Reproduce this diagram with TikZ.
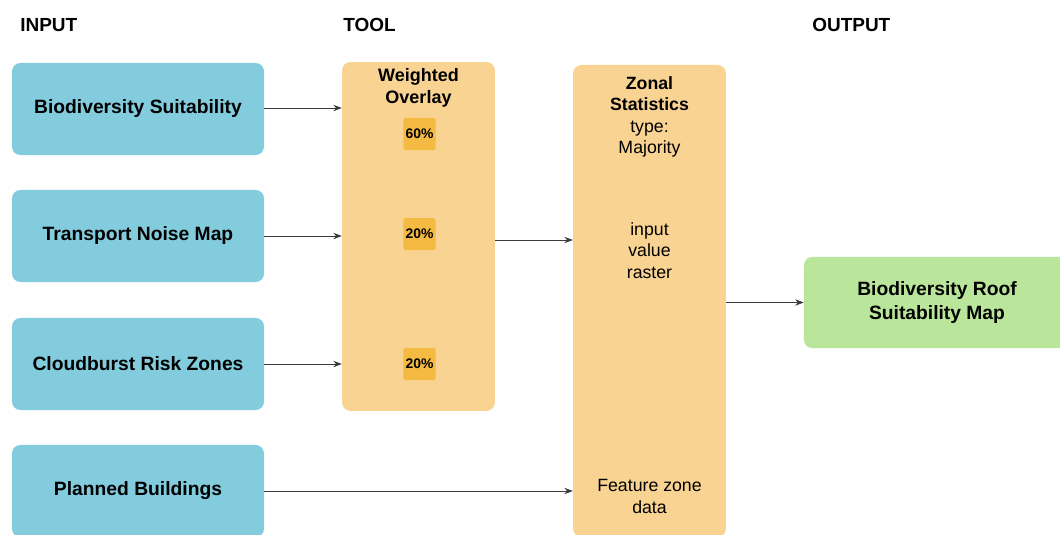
\documentclass[tikz,border=0pt]{standalone}
\usepackage{fontspec}
\setmainfont{Liberation Sans}
\usetikzlibrary{arrows.meta}

\definecolor{inblue}{HTML}{82CCDD}
\definecolor{toolorange}{HTML}{F8D392}
\definecolor{weightorange}{HTML}{F5BA42}
\definecolor{outgreen}{HTML}{B9E69A}
\definecolor{linegray}{HTML}{3A3A3A}

\begin{document}
\begin{tikzpicture}[x=0.025cm, y=-0.025cm,
  inbox/.style={rectangle, rounded corners=6pt, fill=inblue, minimum width=6.3cm, minimum height=2.3cm, font=\fontsize{13.7}{16}\selectfont\bfseries},
  toolbox/.style={rectangle, rounded corners=6pt, fill=toolorange, minimum width=3.82cm},
  weightbox/.style={rectangle, rounded corners=1.5pt, fill=weightorange, minimum size=0.8cm, inner sep=0pt, font=\fontsize{9.9}{11}\selectfont\bfseries},
  outbox/.style={rectangle, rounded corners=6pt, fill=outgreen, minimum width=6.65cm, minimum height=2.28cm, align=center, font=\fontsize{13.7}{16.5}\selectfont\bfseries},
  header/.style={font=\fontsize{13.5}{16}\selectfont\bfseries, anchor=west, inner sep=0pt},
  tooltext/.style={align=center, font=\fontsize{12.6}{15.2}\selectfont},
  flow/.style={-{Stealth[length=6pt, width=4.5pt]}, draw=linegray, line width=0.5pt}]
  \clip (0,0) rectangle (1060,534);
  \useasboundingbox (0,0) rectangle (1060,534);

  \node[header] (hin) at (20,25) {INPUT};
  \node[header] (htool) at (343,25) {TOOL};
  \node[header] (hout) at (812,25) {OUTPUT};

  \node[inbox] (bio) at (138,109) {Biodiversity Suitability};
  \node[inbox] (noise) at (138,236) {Transport Noise Map};
  \node[inbox] (cloud) at (138,364) {Cloudburst Risk Zones};
  \node[inbox] (plan) at (138,491) {Planned Buildings};

  \node[toolbox, minimum height=8.72cm] (overlay) at (418.5,236.5) {};
  \node[tooltext, font=\fontsize{12.8}{15.5}\selectfont\bfseries] (ovtitle) at (418.5,88) {Weighted\\Overlay};
  \node[weightbox] (w1) at (419.5,134) {60\%};
  \node[weightbox] (w2) at (419.5,234) {20\%};
  \node[weightbox] (w3) at (419.5,364) {20\%};

  \node[toolbox, minimum height=11.8cm] (zonal) at (649.5,301) {};
  \node[tooltext] (ztitle) at (649.5,117) {\textbf{Zonal}\\\textbf{Statistics}\\type:\\Majority};
  \node[tooltext] (zvalue) at (649.5,250.5) {input\\value\\raster};
  \node[tooltext] (zzone) at (649.5,496.5) {Feature zone\\data};

  \node[outbox] (out) at (937,302.5) {Biodiversity Roof\\Suitability Map};

  \draw[flow] (bio.east |- 0,108) -- (overlay.west |- 0,108);
  \draw[flow] (noise) -- (noise -| overlay.west);
  \draw[flow] (cloud) -- (cloud -| overlay.west);
  \draw[flow] (overlay.east |- 0,240) -- (zonal.west |- 0,240);
  \draw[flow] (plan) -- (plan -| zonal.west);
  \draw[flow] (zonal.east |- out) -- (out);
\end{tikzpicture}
\end{document}
